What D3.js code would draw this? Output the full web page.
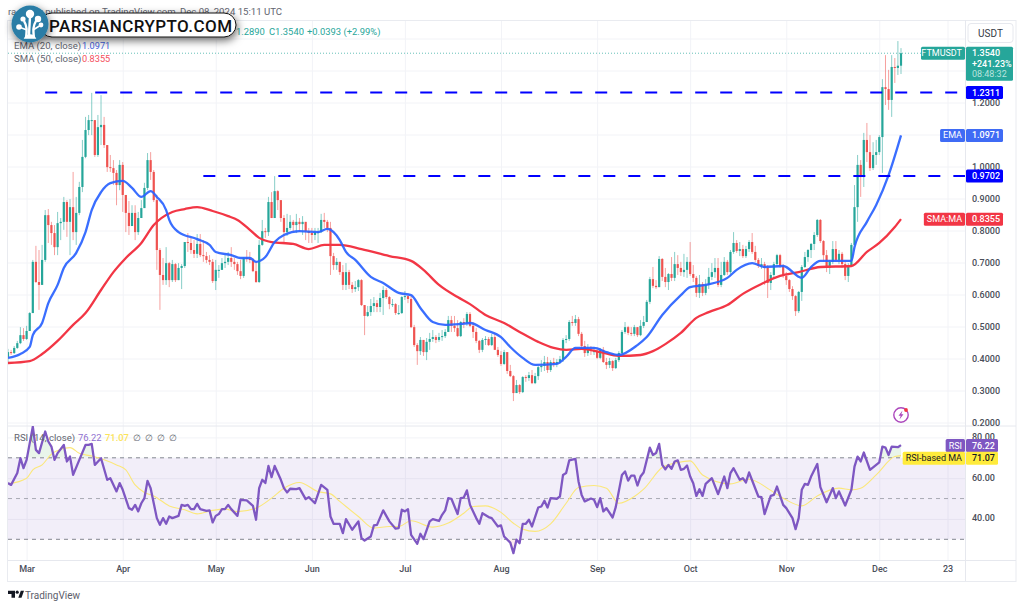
<!DOCTYPE html>
<html>
<head>
<meta charset="utf-8" />
<title>FTMUSDT</title>
<script src="https://d3js.org/d3.v7.min.js"></script>
<style>
  html, body { margin: 0; padding: 0; background: #fff; overflow: hidden; }
  svg { display: block; font-family: Roboto, sans-serif; }
  .axis path { display: none; }
  .axis line { stroke: none; }
  .grid path { display: none; }
  .grid line { stroke: #f2f3f7; }
</style>
</head>
<body>
<svg id="chart" width="1024" height="608"></svg>
<script>
// daily candles, Feb 24 2024 -> Dec 8 2024. open of a candle = previous close
const firstOpen = 0.405
const closes = [
.420,.417,.433,.448,.473,.461,.486,.542,.702,.639,.630,.708,.848,.817,.792,.748,.823,.827,.889,.827,
.873,.795,.855,.936,1.030,1.114,1.145,1.145,1.036,1.123,1.130,1.067,.998,.995,.980,.942,1.005,.911,.855,.814,
.855,.795,.839,.870,.933,1.020,.983,.895,.739,.661,.645,.698,.645,.695,.645,.683,.689,.764,.761,.739,
.727,.758,.723,.720,.708,.702,.642,.677,.677,.698,.702,.714,.702,.695,.673,.658,.714,.711,.708,.673,
.639,.755,.798,.795,.889,.839,.923,.895,.839,.795,.808,.827,.817,.827,.820,.827,.798,.792,.786,.795,
.795,.833,.827,.808,.720,.692,.702,.670,.630,.670,.630,.617,.623,.645,.567,.533,.545,.564,.573,.561,
.589,.614,.592,.570,.570,.542,.542,.592,.595,.586,.498,.442,.423,.458,.420,.452,.461,.467,.458,.467,
.470,.483,.520,.502,.495,.470,.514,.511,.539,.502,.483,.455,.427,.458,.461,.442,.467,.427,.411,.383,
.420,.361,.345,.292,.317,.295,.342,.339,.348,.323,.345,.373,.377,.389,.364,.389,.383,.389,.398,.458,
.461,.514,.511,.523,.477,.439,.417,.427,.423,.423,.402,.427,.389,.380,.392,.370,.395,.417,.483,.498,
.480,.477,.498,.473,.502,.514,.577,.648,.627,.623,.711,.655,.639,.664,.652,.695,.683,.670,.677,.702,
.664,.652,.605,.633,.605,.630,.655,.670,.683,.630,.661,.702,.670,.733,.761,.736,.742,.720,.742,.764,
.733,.708,.689,.695,.683,.636,.661,.695,.723,.689,.658,.645,.617,.595,.548,.608,.686,.717,.739,.758,
.786,.833,.767,.723,.683,.702,.742,.708,.727,.695,.658,.692,.755,.873,1.005,.967,1.083,1.045,.995,1.036,
1.045,1.092,1.248,1.242,1.208,1.311,1.308,1.315,1.354
]
const highs = [
.430,.427,.439,.455,.498,.495,.502,.545,.708,.752,.739,.755,.864,.867,.827,.817,.858,.839,.905,.895,
.898,.983,.905,.952,1.083,1.155,1.161,1.230,1.145,1.161,1.223,1.155,1.067,1.036,1.020,.989,1.020,1.014,.911,.892,
.879,.879,.858,.895,.949,1.042,1.045,.989,.911,.745,.714,.748,.702,.708,.698,.698,.695,.764,.792,.777,
.770,.789,.789,.770,.733,.723,.711,.708,.692,.714,.723,.733,.748,.714,.702,.708,.717,.739,.733,.714,
.702,.770,.833,.808,.905,.920,.970,.926,.883,.848,.852,.848,.833,.852,.839,.845,.827,.808,.808,.808,
.808,.852,.855,.833,.827,.730,.714,.702,.692,.698,.677,.639,.642,.648,.648,.567,.564,.586,.592,.583,
.605,.626,.620,.595,.586,.573,.567,.595,.611,.598,.598,.505,.448,.467,.458,.464,.480,.489,.473,.480,
.489,.492,.533,.533,.533,.520,.517,.526,.545,.545,.514,.495,.458,.464,.470,.467,.477,.480,.436,.423,
.427,.420,.380,.348,.333,.320,.345,.348,.358,.364,.355,.377,.395,.408,.405,.395,.402,.398,.408,.464,
.473,.520,.533,.536,.530,.483,.455,.445,.439,.436,.430,.433,.436,.402,.402,.395,.402,.423,.489,.514,
.502,.498,.505,.498,.520,.533,.583,.655,.686,.645,.720,.714,.683,.667,.717,.733,.723,.702,.727,.717,
.764,.692,.658,.661,.639,.648,.683,.698,.714,.714,.702,.717,.708,.739,.795,.770,.764,.755,.752,.770,
.792,.752,.714,.714,.702,.692,.670,.702,.727,.727,.695,.670,.648,.626,.598,.611,.692,.733,.742,.761,
.795,.836,.836,.770,.739,.708,.767,.767,.739,.733,.702,.698,.761,.942,1.036,1.020,1.105,1.136,1.098,1.076,
1.083,1.098,1.273,1.348,1.302,1.348,1.339,1.392,1.370
]
const lows = [
.389,.411,.414,.430,.445,.455,.458,.486,.542,.636,.552,.630,.702,.761,.755,.723,.723,.770,.802,.780,
.723,.770,.755,.848,.920,1.026,1.098,1.098,1.030,1.030,1.067,1.058,.983,.983,.942,.879,.926,.858,.795,.786,
.817,.770,.786,.848,.873,.926,.958,.889,.677,.552,.630,.630,.623,.639,.639,.645,.617,.683,.733,.727,
.714,.714,.717,.702,.698,.692,.636,.614,.652,.677,.683,.692,.686,.677,.661,.648,.652,.702,.698,.670,
.636,.636,.752,.777,.783,.839,.839,.864,.827,.761,.783,.802,.795,.792,.795,.786,.770,.761,.761,.770,
.761,.792,.808,.795,.661,.677,.677,.661,.614,.614,.617,.605,.608,.611,.564,.473,.530,.533,.545,.545,
.545,.536,.586,.554,.561,.536,.536,.539,.583,.573,.495,.436,.380,.411,.408,.395,.427,.452,.448,.452,
.455,.464,.483,.483,.483,.467,.467,.495,.502,.498,.464,.448,.417,.420,.442,.439,.439,.427,.405,.377,
.380,.352,.342,.267,.292,.289,.292,.327,.330,.320,.320,.333,.358,.361,.355,.358,.373,.373,.383,.389,
.448,.455,.502,.502,.470,.433,.405,.408,.411,.411,.398,.398,.386,.367,.370,.361,.367,.389,.411,.477,
.473,.470,.470,.467,.470,.495,.514,.570,.620,.617,.623,.642,.623,.614,.642,.642,.661,.658,.655,.652,
.658,.639,.592,.589,.595,.598,.617,.645,.652,.623,.623,.658,.661,.664,.727,.730,.720,.714,.714,.733,
.727,.702,.683,.680,.630,.589,.614,.652,.689,.683,.652,.630,.608,.583,.533,.542,.580,.683,.702,.714,
.739,.780,.761,.702,.670,.664,.695,.702,.695,.683,.645,.639,.686,.755,.827,.905,.936,1.014,.986,.989,
1.005,1.036,.980,1.192,1.177,1.155,1.261,1.286,1.289
]

// moving averages, read at candle numbers
const emaDays = [0,4,7,8,11,13,16,18,22,25,27,30,33,37,40,43,46,48,51,52,55,61,65,67,72,75,78,80,83,86,89,94,100,103,105,107,109,112,117,121,126,130,133,137,141,146,149,154,159,162,166,170,177,180,183,189,193,197,203,206,211,217,220,225,232,235,240,244,250,256,259,262,272,273,277,280,284,288]
const emaValues = [.402,.414,.436,.473,.511,.573,.630,.683,.730,.795,.864,.920,.948,.955,.933,.905,.923,.905,.864,.833,.795,.773,.755,.733,.723,.714,.714,.702,.717,.764,.786,.798,.795,.805,.795,.770,.733,.708,.655,.636,.605,.598,.558,.514,.505,.508,.511,.489,.467,.436,.402,.380,.383,.405,.433,.433,.420,.411,.442,.467,.536,.598,.623,.630,.652,.677,.698,.686,.689,.652,.686,.705,.705,.748,.827,.880,.973,1.0971]
const smaDays = [0,7,11,16,21,25,30,34,38,43,47,53,57,61,66,71,74,78,81,85,92,97,102,107,114,123,130,134,139,145,149,154,160,165,171,176,180,185,191,197,204,208,212,217,222,226,232,237,243,249,255,262,272,277,281,286,288]
const smaValues = [.386,.392,.414,.455,.505,.542,.614,.670,.714,.761,.817,.858,.867,.873,.861,.845,.833,.802,.777,.764,.758,.742,.755,.755,.742,.720,.705,.677,.630,.592,.570,.536,.511,.483,.452,.433,.427,.430,.420,.408,.411,.423,.445,.480,.527,.545,.567,.602,.633,.658,.670,.686,.689,.733,.761,.811,.8355]

// rsi pane, turning points of the line
const rsiDays = [0,1,3,4,5,6,8,9,10,12,13,14,15,16,18,19,20,21,23,25,26,27,28,30,32,33,35,36,37,39,40,41,42,43,44,45,46,48,49,50,51,52,53,55,56,57,58,59,60,61,62,64,65,66,67,68,69,70,71,72,74,75,77,79,80,81,82,83,84,85,86,88,89,90,91,93,94,96,97,99,101,103,104,105,107,108,109,111,113,114,115,117,118,119,121,123,125,126,127,128,129,130,132,133,134,136,137,139,140,141,142,143,145,146,147,148,149,151,152,153,155,156,158,159,160,162,163,164,165,166,167,168,169,171,172,173,174,175,177,178,179,180,181,183,184,185,186,188,189,190,191,192,193,195,196,198,199,200,201,202,203,204,205,207,208,209,210,211,212,213,214,215,216,217,218,219,220,221,222,223,224,225,227,229,231,232,233,234,236,237,238,239,242,243,244,246,247,248,250,251,253,254,255,256,257,258,259,261,262,264,266,267,268,270,272,273,274,275,276,278,281,282,283,284,285,287,288]
const rsiValues = [57.6,56.7,62.5,69.8,64.9,69,85.3,73.9,72.3,82.9,78,75.5,69,72.3,76.3,68.2,70.6,61.6,69,76.3,76.3,76.8,66.5,69.8,59.2,60,53.5,57.6,54.3,45.3,44.5,46.9,43.7,47.7,50.2,58.7,55.1,40.4,37.1,40.4,37.6,41.2,40.4,41.5,46.9,46.4,46.9,44.8,44.8,47.4,44.8,44,44.2,38.3,41.5,42.4,44.8,44.8,46.9,44.8,41.5,49.4,49.1,46.4,39.6,55.1,59.2,57.6,66,60.5,66,59.2,55.1,53,54.8,54.6,55.1,49.7,50.7,47.7,56.7,54.3,41.2,37.6,37.6,33,39.9,34.7,38.8,30.6,29.4,31.4,36.8,37.1,44.2,38.8,35.2,35.5,44.5,43.7,44.8,32.2,27.8,32.7,30.1,38.8,39.9,39,42,44.2,50.2,49.9,42.4,50.2,50.5,54,46.9,40.4,37.6,42.8,40.9,40.4,36.3,36.8,31.4,28.4,23.2,29.8,28.1,37.6,37.6,39.6,36.3,45.6,46.1,48.9,45.6,50.2,49.9,51,61.6,62.5,68.7,69.5,58.4,51.8,48.6,50,49.4,45.8,50.2,43.7,45.3,40.7,45.8,61.6,63.3,58.8,61.3,61.3,56.4,60.8,62.8,75,71.4,72.3,76.8,66.5,64.4,66.5,64.6,68.2,68.7,64.1,64.6,66.2,60.8,57.5,51.3,54.6,51.3,57.2,60,52.2,60.8,55.1,62.5,64.9,59.2,60,57.9,62.8,51,50.7,42.4,51.3,51.8,55.9,46.9,45.3,40.4,35,40.4,54.3,57.2,56.7,60.8,67,55.6,48.2,55.1,50.2,53.5,46.6,54.3,65.7,70.6,68.2,72.6,64.1,67.8,75.5,75,71.4,75.5,75.2,76.22]
const rsiMaDays = [0,6,8,11,14,17,20,23,27,31,35,38,41,44,47,52,57,61,66,70,74,80,85,89,94,100,104,107,113,118,123,126,130,137,142,147,150,154,159,163,166,170,175,180,184,189,193,197,202,205,211,216,220,224,233,239,246,250,256,261,268,272,275,280,286,288]
const rsiMaValues = [57.2,60,64.1,66.5,71.8,74.2,75,72.2,70.9,69,66.5,64.1,56.7,53,51.3,46.4,44.5,42.5,44.2,44.8,43.6,45.3,50.2,55.1,57.9,53.4,52.3,48.6,41.2,35.5,36.3,36.3,39.1,36,38,42.8,46.1,46.4,43.2,37.9,35,33.9,37.6,47.7,55.4,56.4,55.1,47.7,51,54.6,65.2,67.7,68.5,61.6,57.2,59.5,54,50.2,46.4,51.3,55.1,54.3,55.1,61.6,70.6,71.07]

const priceTicks = [0.2,0.3,0.4,0.5,0.6,0.7,0.8,0.9,1.0,1.2]
const priceGrid = [0.2,0.3,0.4,0.5,0.6,0.7,0.8,0.9,1.0,1.1,1.2,1.3,1.4]
const rsiTicks = [80,60,40]
const rsiBands = [70,50,30]
const timeTickDays = [6,37,67,98,128,159,190,220,251,281,303]
const timeTickLabels = ["Mar","Apr","May","Jun","Jul","Aug","Sep","Oct","Nov","Dec","23"]
const supports = [{value: 1.2311, from: 12}, {value: 0.9702, from: 63}]

const svg = d3.select("#chart")
const left = 8, right = 965, frameRight = 1016

const x = d3.scaleLinear().domain([0, 288]).range([8, 901])
const y = d3.scaleLinear().domain([0.2, 1.2]).range([422.5, 102.5])
const r = d3.scaleLinear().domain([30, 70]).range([539.3, 457.8])

const defs = svg.append("defs")
defs.append("clipPath").attr("id", "pricePane").append("rect").attr("x", left).attr("y", 20).attr("width", right - left).attr("height", 405)
defs.append("clipPath").attr("id", "rsiPane").append("rect").attr("x", left).attr("y", 426).attr("width", right - left).attr("height", 134)
defs.append("clipPath").attr("id", "above70").append("rect").attr("x", left).attr("y", 426).attr("width", right - left).attr("height", r(70) - 426)
defs.append("clipPath").attr("id", "below30").append("rect").attr("x", left).attr("y", r(30)).attr("width", right - left).attr("height", 560 - r(30))
const shadow = defs.append("filter").attr("id", "logoShadow").attr("x", "-20%").attr("y", "-50%").attr("width", "140%").attr("height", "220%")
shadow.append("feDropShadow").attr("dx", 1).attr("dy", 3).attr("stdDeviation", 4).attr("flood-color", "#000").attr("flood-opacity", 0.6)

// grids
svg.append("g").attr("class", "grid").attr("transform", `translate(${left},0)`)
  .call(d3.axisLeft(y).tickValues(priceGrid).tickSize(-(right - left)).tickFormat(""))
svg.append("g").attr("class", "grid").attr("transform", `translate(${left},0)`)
  .call(d3.axisLeft(r).tickValues(rsiTicks).tickSize(-(right - left)).tickFormat(""))
svg.append("g").attr("class", "grid").attr("transform", "translate(0,560)")
  .call(d3.axisBottom(x).tickValues(timeTickDays).tickSize(-540).tickFormat(""))

// frame and pane separators
svg.append("rect").attr("x", 7.5).attr("y", 20.5).attr("width", frameRight - 7.5).attr("height", 561).attr("fill", "none").attr("stroke", "#e9ebf0")
svg.append("line").attr("x1", 8).attr("x2", frameRight).attr("y1", 426).attr("y2", 426).attr("stroke", "#e6e8ee")
svg.append("line").attr("x1", 8).attr("x2", frameRight).attr("y1", 560.5).attr("y2", 560.5).attr("stroke", "#e6e8ee")
svg.append("line").attr("x1", right + .5).attr("x2", right + .5).attr("y1", 20).attr("y2", 581).attr("stroke", "#e6e8ee")

// last price dotted line
svg.append("line").attr("x1", left).attr("x2", right).attr("y1", y(1.354)).attr("y2", y(1.354))
  .attr("stroke", "#26a69a").attr("stroke-dasharray", "1 2").attr("stroke-opacity", .7)

// candles
const candles = closes.map((c, i) => ({i, open: i ? closes[i - 1] : firstOpen, close: c, high: highs[i], low: lows[i]}))
const pricePane = svg.append("g").attr("clip-path", "url(#pricePane)")
const candleColor = d => d.close >= d.open ? "#26a69a" : "#ef5350"
pricePane.selectAll("line.wick").data(candles).enter().append("line").attr("class", "wick")
  .attr("x1", d => x(d.i)).attr("x2", d => x(d.i))
  .attr("y1", d => y(d.high)).attr("y2", d => y(d.low))
  .attr("stroke", candleColor).attr("stroke-opacity", .55)
pricePane.selectAll("rect.body").data(candles).enter().append("rect").attr("class", "body")
  .attr("x", d => x(d.i) - 1.1).attr("width", 2.2)
  .attr("y", d => y(Math.max(d.open, d.close)))
  .attr("height", d => Math.max(1, Math.abs(y(d.open) - y(d.close))))
  .attr("fill", candleColor)

// moving averages
const knotLine = (scale, curve) => d3.line().x(d => x(d[0])).y(d => scale(d[1])).curve(curve)
pricePane.append("path").attr("d", knotLine(y, d3.curveMonotoneX)(d3.zip(smaDays, smaValues)))
  .attr("fill", "none").attr("stroke", "#f23645").attr("stroke-width", 2.3)
pricePane.append("path").attr("d", knotLine(y, d3.curveMonotoneX)(d3.zip(emaDays, emaValues)))
  .attr("fill", "none").attr("stroke", "#2962ff").attr("stroke-width", 2.3).attr("stroke-opacity", .92)

// horizontal support / resistance lines
supports.forEach(s => {
  svg.append("line").attr("x1", x(s.from)).attr("x2", right).attr("y1", y(s.value)).attr("y2", y(s.value))
    .attr("stroke", "#0000ff").attr("stroke-width", 2).attr("stroke-dasharray", "12 13")
})

// rsi pane
const rsiPts = d3.zip(rsiDays, rsiValues)
const rsiPane = svg.append("g").attr("clip-path", "url(#rsiPane)")
rsiPane.append("rect").attr("x", left).attr("width", right - left).attr("y", r(70)).attr("height", r(30) - r(70))
  .attr("fill", "#7e57c2").attr("fill-opacity", .1)
const rsiArea = level => d3.area().x(d => x(d[0])).y0(r(level)).y1(d => r(d[1]))
rsiPane.append("path").attr("clip-path", "url(#above70)").attr("d", rsiArea(70)(rsiPts)).attr("fill", "#4caf50").attr("fill-opacity", .12)
rsiPane.append("path").attr("clip-path", "url(#below30)").attr("d", rsiArea(30)(rsiPts)).attr("fill", "#ff5252").attr("fill-opacity", .1)
rsiBands.forEach(b => {
  rsiPane.append("line").attr("x1", left).attr("x2", right).attr("y1", r(b)).attr("y2", r(b))
    .attr("stroke", "#787b86").attr("stroke-opacity", b === 50 ? .6 : .9).attr("stroke-dasharray", "4 4")
})
rsiPane.append("path").attr("d", knotLine(r, d3.curveMonotoneX)(d3.zip(rsiMaDays, rsiMaValues)))
  .attr("fill", "none").attr("stroke", "#fbe77a").attr("stroke-width", 1.1)
rsiPane.append("path").attr("d", knotLine(r, d3.curveLinear)(rsiPts))
  .attr("fill", "none").attr("stroke", "#7e57c2").attr("stroke-width", 2.3).attr("stroke-linejoin", "round")

// axes
const baseSize = 9
const tickFont = g => g.selectAll("text").attr("fill", "#4a4e59").attr("font-size", baseSize).attr("font-family", "Roboto, sans-serif").attr("font-weight", 500)
svg.append("g").attr("class", "axis").attr("transform", `translate(${right},0)`)
  .call(d3.axisRight(y).tickValues(priceTicks).tickSize(0).tickPadding(7).tickFormat(d3.format(".4f")))
  .call(tickFont)
svg.append("g").attr("class", "axis").attr("transform", `translate(${right},-1)`)
  .call(d3.axisRight(r).tickValues(rsiTicks).tickSize(0).tickPadding(7).tickFormat(d3.format(".2f")))
  .call(tickFont)
svg.append("g").attr("class", "axis").attr("transform", "translate(0,562)")
  .call(d3.axisBottom(x).tickValues(timeTickDays).tickSize(0).tickPadding(4).tickFormat((d, i) => timeTickLabels[i]))
  .call(tickFont)

// text helper
const label = (t, px, py, fill, opts = {}) => svg.append("text").attr("x", px).attr("y", py).text(t)
  .attr("fill", fill).attr("font-size", opts.size || baseSize).attr("text-anchor", opts.anchor || "start")
  .attr("font-weight", opts.weight || 400).attr("dominant-baseline", "central")

// legends
const gray = "#62656f"
label("ra", 8, 11, gray, {size: 9.6})
label("er published on TradingView.com,  Dec 08, 2024 15:11 UTC", 282, 11, gray, {anchor: "end", size: 9.6})
label("1.2890", 236, 31.5, "#26a69a", {size: 9.4})
label("C1.3540", 269, 31.5, "#26a69a", {size: 9.4})
label("+0.0393 (+2.99%)", 307, 31.5, "#26a69a", {size: 9.4})
label("EMA (20, close)", 14, 45, gray, {size: 9.6})
label("1.0971", 82, 45, "#3f5fe0", {size: 9.2})
label("SMA (50, close)", 14, 58, gray, {size: 9.6})
label("0.8355", 82, 58, "#f4505c", {size: 9.2})
label("RSI (14, close)", 14, 437.5, gray, {size: 9.6})
label("76.22", 78, 437.5, "#8f6fd0", {size: 9.4})
label("71.07", 105, 437.5, "#fbe35a", {weight: 500, size: 9.4})
label("∅", 133, 437.5, gray)
label("∅", 145, 437.5, gray)
label("∅", 157, 437.5, gray)
label("∅", 169, 437.5, gray)

// price scale badges
const badge = (name, value, mid, color, textColor, boxRight) => {
  const top = mid - 6.5
  if (name) {
    const t = label(name, right - 3, mid, textColor, {anchor: "end"})
    const w = t.node().getComputedTextLength() + 6
    svg.insert("rect", () => t.node()).attr("x", right - w).attr("y", top).attr("width", w).attr("height", 13).attr("rx", 1.5).attr("fill", color)
  }
  svg.append("rect").attr("x", right + 1).attr("y", top).attr("width", boxRight - right - 1).attr("height", 13).attr("rx", 1.5).attr("fill", color)
  label(value, right + 7, mid, textColor, {weight: 500})
}
badge("", "1.2311", y(1.2311), "#0000ff", "#fff", 1003)
badge("EMA", "1.0971", y(1.0971), "#3f6bf5", "#fff", 1003)
badge("", "0.9702", y(0.9702), "#0000ff", "#fff", 1003)
badge("SMA:MA", "0.8355", y(0.8355), "#f23645", "#fff", 1003)
badge("RSI", "76.22", 445.5, "#7e57c2", "#fff", 998)
badge("RSI-based MA", "71.07", 458.2, "#ffeb3b", "#131722", 998)

// last price badge
const lastY = y(1.354)
const lastName = label("FTMUSDT", right - 3, lastY, "#fff", {anchor: "end"})
svg.insert("rect", () => lastName.node()).attr("x", right - 44).attr("y", lastY - 6.5).attr("width", 44).attr("height", 13).attr("rx", 1.5).attr("fill", "#26a69a")
svg.append("rect").attr("x", right + 1).attr("y", lastY - 6.5).attr("width", 47).attr("height", 34).attr("rx", 1.5).attr("fill", "#26a69a")
label("1.3540", right + 7, lastY, "#fff", {weight: 500})
label("+241.23%", right + 7, lastY + 10.5, "#fff", {weight: 500})
label("08:48:32", right + 7, lastY + 21, "#b9e3de")

// USDT button
svg.append("rect").attr("x", 968).attr("y", 23.5).attr("width", 45).attr("height", 19).attr("rx", 3).attr("fill", "#fff").attr("stroke", "#e6e8ee")
label("USDT", 990.5, 33.5, "#363a45", {anchor: "middle", size: 10})

// lightning badge above the latest candle
const bolt = svg.append("g").attr("transform", `translate(${x(288)},415)`)
bolt.append("circle").attr("r", 7.2).attr("fill", "#fff").attr("stroke", "#ab47bc").attr("stroke-width", 1.4)
bolt.append("path").attr("d", "M1.5,-4.5 L-2.5,0.8 L-0.3,0.8 L-1.5,4.5 L2.5,-0.8 L0.3,-0.8 Z").attr("fill", "#ab47bc")
bolt.append("circle").attr("cx", 5).attr("cy", -5).attr("r", 1.9).attr("fill", "#f23645")

// watermark pill with tree logo
const wm = svg.append("g")
wm.append("rect").attr("x", 40).attr("y", 13).attr("width", 196).attr("height", 24).attr("rx", 12)
  .attr("fill", "#fff").attr("stroke", "#111").attr("stroke-width", 1).attr("filter", "url(#logoShadow)")
wm.append("text").attr("x", 49).attr("y", 25.5).attr("dominant-baseline", "central").attr("font-size", 17)
  .attr("font-family", "Roboto, sans-serif").attr("font-weight", 500).attr("fill", "#111").attr("textLength", 183).text("PARSIANCRYPTO.COM")
wm.append("circle").attr("cx", 30).attr("cy", 24).attr("r", 18.5).attr("fill", "#2a7da6").attr("filter", "url(#logoShadow)")
wm.append("path").attr("d", "M26,38 C27,30 27,26 24,21 M34,38 C33,30 33,26 36,21 M29,38 C29,28 30,22 30,15")
  .attr("fill", "none").attr("stroke", "#fff").attr("stroke-width", 2.4)
wm.append("path").attr("d", "M25,38 C27,34 33,34 35,38 Z M19,27 L27,30 M41,25 L33,30").attr("fill", "#fff").attr("stroke", "#fff").attr("stroke-width", 1.6)
const dotsX = [30, 23, 38, 19, 41]
const dotsY = [14, 19, 19, 27, 25]
const dotsR = [4.2, 2.6, 3.2, 2.8, 2.4]
wm.selectAll("circle.dot").data(dotsX).enter().append("circle").attr("class", "dot")
  .attr("cx", d => d).attr("cy", (d, i) => dotsY[i]).attr("r", (d, i) => dotsR[i]).attr("fill", "#fff")

// TradingView mark
const tv = svg.append("g").attr("fill", "#131722")
tv.append("path").attr("d", "M8,590.7 h7 v7 h-3.5 v-3.8 h-3.5 Z")
tv.append("circle").attr("cx", 17.2).attr("cy", 592.2).attr("r", 1.6)
tv.append("path").attr("d", "M18.3,597.7 L20.8,590.7 H24 L21.5,597.7 Z")
label("TradingView", 25, 595, "#5d606b", {size: 10})
</script>
</body>
</html>
